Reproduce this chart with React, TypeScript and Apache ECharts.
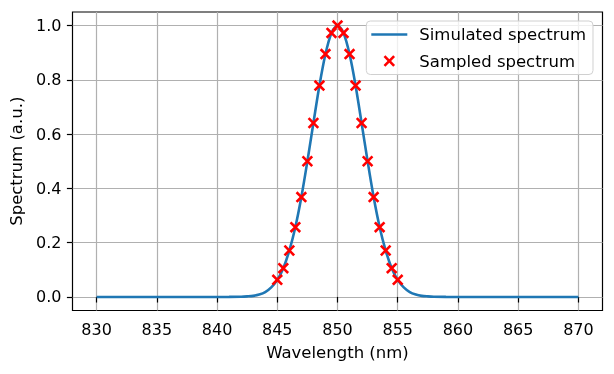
import React, { useEffect, useRef } from 'react';
import * as echarts from 'echarts';

const xTicks = [830, 835, 840, 845, 850, 855, 860, 865, 870];
const yTicks = [0, 0.2, 0.4, 0.6, 0.8, 1.0];

const simX = [830, 836, 840, 841, 842, 842.5, 843, 843.5, 844, 844.5, 845, 845.5, 846, 846.5, 847, 847.5, 848, 848.5, 849, 849.5, 850,
  850.5, 851, 851.5, 852, 852.5, 853, 853.5, 854, 854.5, 855, 855.5, 856, 856.5, 857, 857.5, 858, 859, 860, 864, 870];
const simY = [0, 0, 0, 0.0001, 0.0008, 0.002, 0.004, 0.009, 0.018, 0.035, 0.063, 0.106, 0.171, 0.257, 0.368, 0.5, 0.641, 0.779, 0.895, 0.973, 1.0,
  0.973, 0.895, 0.779, 0.641, 0.5, 0.368, 0.257, 0.171, 0.106, 0.063, 0.035, 0.018, 0.009, 0.004, 0.002, 0.0008, 0.0001, 0, 0, 0];

const sampleX = [845, 845.5, 846, 846.5, 847, 847.5, 848, 848.5, 849, 849.5, 850, 850.5, 851, 851.5, 852, 852.5, 853, 853.5, 854, 854.5, 855];
const sampleY = [0.063, 0.106, 0.171, 0.257, 0.368, 0.5, 0.641, 0.779, 0.895, 0.973, 1.0, 0.973, 0.895, 0.779, 0.641, 0.5, 0.368, 0.257, 0.171, 0.106, 0.063];

const FONT = 'DejaVu Sans';
const XMARK = 'path://M0,1.6L1.6,0L5,3.4L8.4,0L10,1.6L6.6,5L10,8.4L8.4,10L5,6.6L1.6,10L0,8.4L3.4,5Z';
const LINEICON = 'path://M0,0H36V2.5H0Z';

export default function App() {
  const ref = useRef<HTMLDivElement>(null);
  useEffect(() => {
    if (!ref.current) return;
    const chart = echarts.init(ref.current, undefined, { renderer: 'svg' });
    chart.setOption({
      animation: false,
      textStyle: { fontFamily: FONT },
      grid: {
        left: 72.5, right: 11.5, top: 12, bottom: 63.5,
        show: true, borderColor: '#000', borderWidth: 1.2, backgroundColor: 'transparent',
      },
      legend: {
        orient: 'vertical',
        right: 21, top: 21,
        itemWidth: 36, itemHeight: 11.5, itemGap: 9.5,
        padding: [5, 7, 5, 5],
        backgroundColor: 'rgba(255,255,255,0.8)',
        borderColor: '#d0d0d0', borderWidth: 1, borderRadius: 4,
        textStyle: { fontFamily: FONT, fontSize: 16.5, color: '#000', padding: [0, 0, 0, 7] },
        data: [
          { name: 'Simulated spectrum', icon: LINEICON },
          { name: 'Sampled spectrum', icon: XMARK },
        ],
      },
      xAxis: {
        type: 'value', min: 828, max: 872,
        name: 'Wavelength (nm)', nameLocation: 'middle', nameGap: 33,
        nameTextStyle: { fontFamily: FONT, fontSize: 16.5, color: '#000' },
        axisLine: { show: false },
        axisTick: { show: true, length: 5.6, customValues: xTicks, lineStyle: { color: '#000', width: 1.2 } },
        axisLabel: { customValues: xTicks, margin: 11, fontFamily: FONT, fontSize: 16, color: '#000' },
        splitLine: { show: true, lineStyle: { color: '#b0b0b0', width: 1.2 } },
      },
      yAxis: {
        type: 'value', min: -0.05, max: 1.05,
        name: 'Spectrum (a.u.)', nameLocation: 'middle', nameGap: 40,
        nameTextStyle: { fontFamily: FONT, fontSize: 16.5, color: '#000' },
        axisLine: { show: false },
        axisTick: { show: true, length: 5.6, customValues: yTicks, lineStyle: { color: '#000', width: 1.2 } },
        axisLabel: { customValues: yTicks, margin: 11, fontFamily: FONT, fontSize: 16, color: '#000',
          formatter: (v: number) => v.toFixed(1) },
        splitLine: { show: true, lineStyle: { color: '#b0b0b0', width: 1.2 } },
      },
      series: [
        {
          name: 'Simulated spectrum', type: 'line',
          data: simX.map((x, i) => [x, simY[i]]),
          symbol: 'none', smooth: 0.3,
          lineStyle: { color: '#1f77b4', width: 2.6 },
          itemStyle: { color: '#1f77b4' },
          z: 2,
        },
        {
          name: 'Sampled spectrum', type: 'scatter',
          data: sampleX.map((x, i) => [x, sampleY[i]]),
          symbol: XMARK, symbolSize: 11.5,
          itemStyle: { color: '#ff0000', opacity: 1 },
          z: 3,
        },
      ],
    });
    return () => chart.dispose();
  }, []);
  return <div ref={ref} style={{ position: 'fixed', left: 0, top: 0, width: 614, height: 374 }} />;
}
